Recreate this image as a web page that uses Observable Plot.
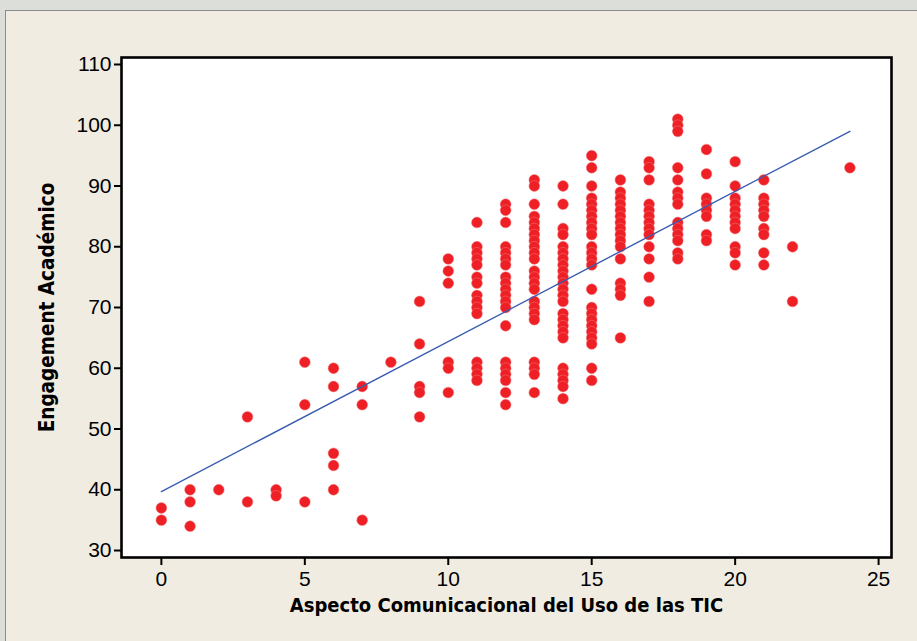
<!DOCTYPE html>
<html><head><meta charset="utf-8">
<script src="https://cdn.jsdelivr.net/npm/d3@7"></script>
<script src="https://cdn.jsdelivr.net/npm/@observablehq/plot@0.6"></script>
<style>
html,body{margin:0;padding:0;width:917px;height:641px;overflow:hidden;background:#dcdfd9;}
#panel{position:absolute;left:5px;top:10px;width:930px;height:650px;background:#f0ece2;border-top:1px solid #8c8c8c;border-left:1px solid #8c8c8c;}
#chart{position:absolute;left:0;top:0;}
</style></head><body>
<div id="panel"></div><div id="chart"></div>
<script>
// Aspecto Comunicacional del Uso de las TIC (x) values and the Engagement Académico (y) values observed at each
const aspecto = [0,1,2,3,4,5,6,7,8,9,10,11,12,13,14,15,16,17,18,19,20,21,22,24];
const engagementPorAspecto = [
  [37,35],
  [40,38,34],
  [40],
  [52,38],
  [40,39],
  [61,54,38],
  [60,57,46,44,40],
  [57,54,35],
  [61],
  [71,64,57,56,52],
  [78,76,74,61,60,56],
  [84,80,79,78,77,75,74,72,71,70,69,61,60,59,58],
  [87,86,84,80,79,78,77,75,74,73,72,71,70,67,61,60,59,58,56,54],
  [91,90,87,85,84,83,82,81,80,79,78,76,75,74,73,71,70,69,68,61,60,59,56],
  [90,87,83,82,80,79,78,77,76,75,74,73,72,71,69,68,67,66,65,60,59,58,57,55],
  [95,93,90,88,87,86,85,84,83,82,80,79,78,77,73,70,69,68,67,66,65,64,60,58],
  [91,89,88,87,86,85,84,83,82,81,80,78,74,73,72,65],
  [94,93,91,87,86,85,84,83,82,80,78,75,71],
  [101,100,99,93,91,89,88,87,84,83,82,81,79,78],
  [96,92,88,87,86,85,82,81],
  [94,90,88,87,86,85,84,83,80,79,77],
  [91,88,87,86,85,83,82,79,77],
  [80,71],
  [93]
];
// fitted regression line, read at its two ends
const ajusteX = [0, 24];
const ajusteY = [39.7, 99.0];
const xTicks = [0,5,10,15,20,25];
const yTicks = [30,40,50,60,70,80,90,100,110];
const xTitle = "Aspecto Comunicacional del Uso de las TIC";
const yTitle = "Engagement Académico";

const points = aspecto.flatMap((x, i) => engagementPorAspecto[i].map(y => ({x, y})));
const fit = ajusteX.map((x, i) => ({x, y: ajusteY[i]}));

const titleFont = "'DejaVu Sans Condensed', 'DejaVu Sans', sans-serif";

const chart = Plot.plot({
  width: 917, height: 641,
  marginLeft: 121, marginRight: 26, marginTop: 57, marginBottom: 84,
  style: {background: "transparent", fontFamily: "'Liberation Sans Narrow', 'Liberation Sans', sans-serif", fontSize: "21px", color: "#000", overflow: "visible"},
  x: {domain: [-1.39, 25.45]},
  y: {domain: [28.85, 111.15]},
  marks: [
    Plot.frame({fill: "#fff"}),
    Plot.dot(points, {x: "x", y: "y", r: 5.4, fill: "#ee1f25", stroke: "#f07a7c", strokeWidth: 0.5}),
    Plot.line(fit, {x: "x", y: "y", stroke: "#3a5cb0", strokeWidth: 1.4}),
    Plot.frame({stroke: "#000", strokeWidth: 2.6}),
    Plot.axisX({ticks: xTicks, tickSize: 8, tickPadding: 6, label: null, strokeWidth: 2}),
    Plot.axisY({ticks: yTicks, tickSize: 7, tickPadding: 3, label: null, strokeWidth: 2}),
    Plot.text([xTitle], {frameAnchor: "bottom", dy: 54, text: d => d, textAnchor: "middle", fontWeight: "bold", fontSize: 20, fontFamily: titleFont}),
    Plot.text([yTitle], {frameAnchor: "left", dx: -74, rotate: -90, text: d => d, textAnchor: "middle", fontWeight: "bold", fontSize: 20.5, fontFamily: titleFont})
  ]
});
document.getElementById("chart").appendChild(chart);
</script></body></html>
